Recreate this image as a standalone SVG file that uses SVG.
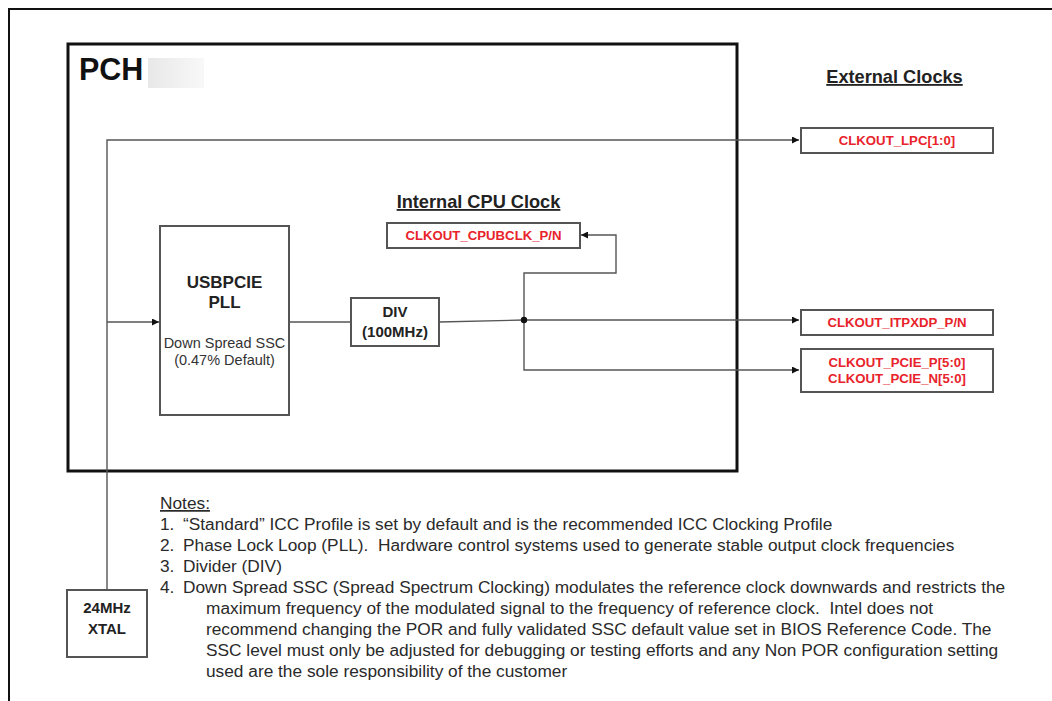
<svg xmlns="http://www.w3.org/2000/svg" width="1052" height="701" viewBox="0 0 1052 701">
<defs>
<marker id="arr" viewBox="0 0 10 10" refX="10" refY="5" markerWidth="7" markerHeight="7" markerUnits="userSpaceOnUse" orient="auto">
<path d="M0,0 L10,5 L0,10 z" fill="#111"/>
</marker>
<linearGradient id="smudge" x1="0" y1="0" x2="1" y2="0">
<stop offset="0" stop-color="#e8e8e8"/>
<stop offset="1" stop-color="#f8f8f8"/>
</linearGradient>
<style>
text{font-family:"Liberation Sans",Arial,sans-serif;white-space:pre;}
.box{fill:#fff;stroke:#555;stroke-width:2;}
.wire{fill:none;stroke:#555;stroke-width:1.4;}
.red{fill:#e8232b;font-weight:bold;font-size:13.2px;text-anchor:middle;}
.blk{fill:#222;font-weight:bold;text-anchor:middle;}
.ttl{fill:#222;font-weight:bold;font-size:18.2px;text-anchor:middle;text-decoration:underline;}
.note{fill:#2a2a2a;font-size:17.3px;}
</style>
</defs>
<rect width="1052" height="701" fill="#fff"/>
<path d="M9,701 V9 H1052" fill="none" stroke="#111" stroke-width="2"/>

<g id="pch">
<rect x="68" y="44" width="669" height="427" fill="none" stroke="#111" stroke-width="3"/>
<rect x="148" y="58" width="56" height="30" fill="url(#smudge)"/>
<text x="79" y="80" font-size="30.5" font-weight="bold" fill="#111">PCH</text>
</g>

<g id="connectors">
<path class="wire" d="M107,590 V140 H799" marker-end="url(#arr)"/>
<path class="wire" d="M107,322 H159" marker-end="url(#arr)"/>
<path class="wire" d="M289,322 H351"/>
<path class="wire" d="M439,322 L524,320"/>
<path class="wire" d="M524,320 H799" marker-end="url(#arr)"/>
<path class="wire" d="M524,320 V370 H799" marker-end="url(#arr)"/>
<path class="wire" d="M524,320 V273 H616 V235 H581" marker-end="url(#arr)"/>
<circle cx="524" cy="320" r="3.2" fill="#111"/>
</g>

<g id="pll">
<rect class="box" x="160" y="226" width="129" height="189"/>
<text class="blk" x="224.5" y="288" font-size="17">USBPCIE</text>
<text class="blk" x="224.5" y="308" font-size="17">PLL</text>
<text x="224.5" y="348" font-size="14.5" fill="#333" text-anchor="middle">Down Spread SSC</text>
<text x="224.5" y="365" font-size="14.5" fill="#333" text-anchor="middle">(0.47% Default)</text>
</g>

<g id="div">
<rect class="box" x="351" y="298" width="88" height="48"/>
<text class="blk" x="395" y="317" font-size="15">DIV</text>
<text class="blk" x="395" y="337" font-size="15">(100MHz)</text>
</g>

<g id="internal-title">
<text class="ttl" x="478.5" y="208">Internal CPU Clock</text>
</g>

<g id="cpubclk">
<rect class="box" x="387" y="223" width="193" height="25"/>
<text class="red" x="483.5" y="240">CLKOUT_CPUBCLK_P/N</text>
</g>

<g id="external-title">
<text class="ttl" x="894.5" y="83">External Clocks</text>
</g>

<g id="lpc">
<rect class="box" x="801" y="128" width="192" height="25"/>
<text class="red" x="897" y="145">CLKOUT_LPC[1:0]</text>
</g>

<g id="itpxdp">
<rect class="box" x="801" y="310" width="192" height="25"/>
<text class="red" x="897" y="327">CLKOUT_ITPXDP_P/N</text>
</g>

<g id="pcie">
<rect class="box" x="801" y="349" width="192" height="43"/>
<text class="red" x="897" y="367">CLKOUT_PCIE_P[5:0]</text>
<text class="red" x="897" y="383">CLKOUT_PCIE_N[5:0]</text>
</g>

<g id="xtal">
<rect class="box" x="67" y="590" width="80" height="67"/>
<text class="blk" x="107" y="613" font-size="15">24MHz</text>
<text class="blk" x="107" y="634" font-size="15">XTAL</text>
</g>

<g id="notes">
<text class="note" x="160" y="509" text-decoration="underline">Notes:</text>
<text class="note" x="160" y="530">1.</text>
<text class="note" x="183" y="530">“Standard” ICC Profile is set by default and is the recommended ICC Clocking Profile</text>
<text class="note" x="160" y="551">2.</text>
<text class="note" x="183" y="551">Phase Lock Loop (PLL).  Hardware control systems used to generate stable output clock frequencies</text>
<text class="note" x="160" y="572">3.</text>
<text class="note" x="183" y="572">Divider (DIV)</text>
<text class="note" x="160" y="593">4.</text>
<text class="note" x="183" y="593">Down Spread SSC (Spread Spectrum Clocking) modulates the reference clock downwards and restricts the</text>
<text class="note" x="206" y="614">maximum frequency of the modulated signal to the frequency of reference clock.  Intel does not</text>
<text class="note" x="206" y="635">recommend changing the POR and fully validated SSC default value set in BIOS Reference Code. The</text>
<text class="note" x="206" y="656">SSC level must only be adjusted for debugging or testing efforts and any Non POR configuration setting</text>
<text class="note" x="206" y="677">used are the sole responsibility of the customer</text>
</g>
</svg>
